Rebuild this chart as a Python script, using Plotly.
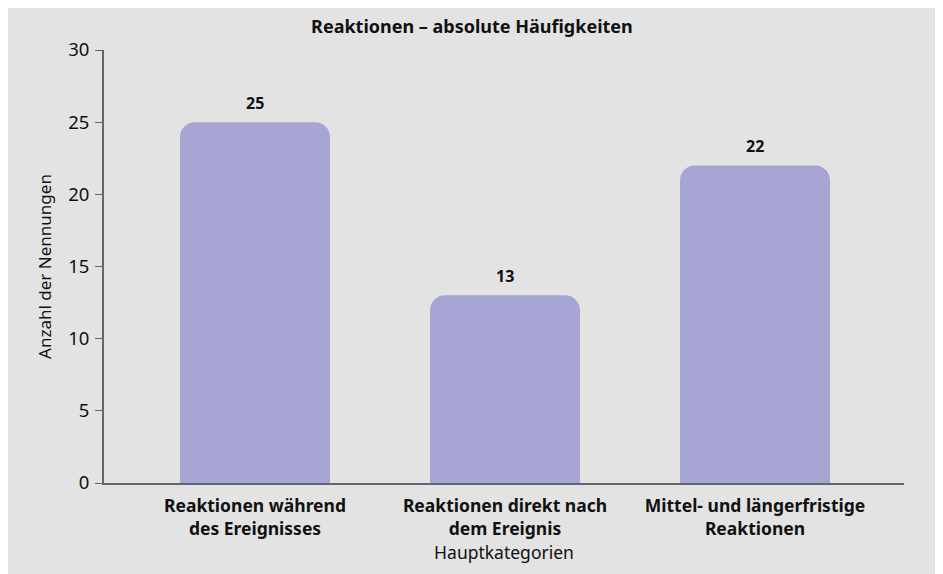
import plotly.graph_objects as go

# Reaktionen - absolute Häufigkeiten
kategorien = [
    "Reaktionen während<br>des Ereignisses",
    "Reaktionen direkt nach<br>dem Ereignis",
    "Mittel- und längerfristige<br>Reaktionen",
]
nennungen = [25, 13, 22]

bar_farbe = "#a7a5d4"
achse = "#5e6870"
font = "Noto Sans"

fig = go.Figure()
fig.add_trace(go.Bar(
    x=kategorien, y=nennungen,
    marker=dict(color=bar_farbe, line=dict(width=0), cornerradius=15),
    width=0.6,
    hoverinfo="x+y",
))

for k, n in zip(kategorien, nennungen):
    fig.add_annotation(x=k, y=n, text="<b>%d</b>" % n, showarrow=False,
                       yanchor="bottom", yshift=6,
                       font=dict(family=font, size=16, color="#111111"))

fig.update_layout(
    width=943, height=574,
    margin=dict(l=96, r=47, t=42, b=99),
    paper_bgcolor="#e3e3e3", plot_bgcolor="#e3e3e3",
    font=dict(family=font, color="#111111"),
    title=dict(text="<b>Reaktionen – absolute Häufigkeiten</b>",
               x=0.492, xanchor="center", y=0.967, yanchor="middle",
               font=dict(family=font, size=18, color="#111111")),
    showlegend=False,
)
fig.update_xaxes(
    range=[-0.604, 2.596],
    showline=True, linecolor=achse, linewidth=2,
    ticks="", showgrid=False, ticklabelstandoff=6,
    tickfont=dict(family=font, size=17.5, color="#111111", weight="bold"),
    title=dict(text="Hauptkategorien", standoff=6,
               font=dict(family=font, size=17.5, color="#111111")),
)
fig.update_yaxes(
    range=[0, 30], dtick=5,
    showline=True, linecolor=achse, linewidth=2,
    ticks="outside", ticklen=7, tickcolor=achse, tickwidth=1,
    showgrid=False, zeroline=False, ticklabelstandoff=2,
    tickfont=dict(family=font, size=18.5, color="#111111"),
    title=dict(text="Anzahl der Nennungen", standoff=12,
               font=dict(family=font, size=17, color="#111111")),
)

fig.write_html("out.html")
